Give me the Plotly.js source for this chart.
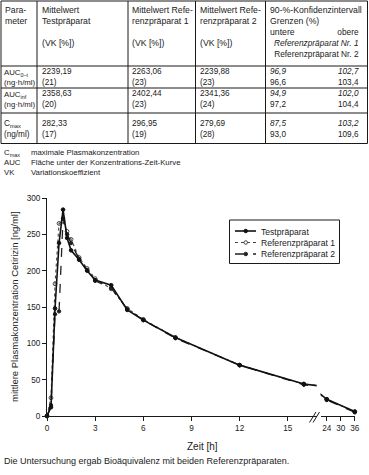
<!DOCTYPE html>
<html>
<head>
<meta charset="utf-8">
<script src="https://cdn.plot.ly/plotly-3.0.1.min.js"></script>
<style>
html,body{margin:0;padding:0;background:#fff;}
#chart{width:369px;height:475px;}
</style>
</head>
<body>
<div id="chart"></div>
<script>
// ---- chart data ----
const times = [0, 0.25, 0.5, 0.75, 1, 1.25, 1.5, 2, 2.5, 3, 4, 5, 6, 8, 12, 16, 24, 36];
const testValues = [0, 12, 148, 238, 284, 245, 228, 215, 200, 187, 180, 146, 132, 108, 70, 44, 23, 6];
const ref1Values = [0, 25, 182, 265, 268, 254, 243, 218, 203, 189, 175, 148, 133, 108, 70, 44, 23, 6];
const ref2Values = [0, 15, 140, 144, 272, 250, 238, 216, 201, 186, 176, 147, 132, 107, 70, 43, 22, 5];
const seriesNames = ["Testpräparat", "Referenzpräparat 1", "Referenzpräparat 2"];
const xTicksLeft = [0, 3, 6, 9, 12, 15];
const xTicksRight = [24, 30, 36];
const yTicks = [0, 50, 100, 150, 200, 250, 300];

// ---- table data ----
const paramNames = ["AUC<sub>0–t</sub>", "AUC<sub>inf</sub>", "C<sub>max</sub>"];
const paramUnits = ["(ng·h/ml)", "(ng·h/ml)", "(ng/ml)"];
const testMeans = ["2239,19", "2358,63", "282,33"];
const testCV = ["(21)", "(20)", "(17)"];
const ref1Means = ["2263,06", "2402,44", "296,95"];
const ref1CV = ["(23)", "(23)", "(19)"];
const ref2Means = ["2239,88", "2341,36", "279,69"];
const ref2CV = ["(23)", "(24)", "(28)"];
const ciLowerRef1 = ["96,9", "94,9", "87,5"];
const ciUpperRef1 = ["102,7", "102,0", "103,2"];
const ciLowerRef2 = ["96,6", "97,2", "93,0"];
const ciUpperRef2 = ["103,4", "104,4", "109,6"];
const abbrevTerms = ["C<sub>max</sub>", "AUC", "VK"];
const abbrevTexts = ["maximale Plasmakonzentration", "Fläche unter der Konzentrations-Zeit-Kurve", "Variationskoeffizient"];

// ---- layout helpers (pixel -> paper) ----
const L = 47, R = 14, T = 198, B = 59, W = 369, H = 475;
const PW = W - L - R, PH = H - T - B;
const X = px => (px - L) / PW;
const Y = py => (H - B - py) / PH;
const FONT = "Liberation Sans, Arial, sans-serif";
const INK = "#1a1a1a";

const styles = [
  {color: "#111", width: 1.6, dash: "solid", symbol: "circle", size: 3.6},
  {color: "#444", width: 1.1, dash: "dot", symbol: "circle-open", size: 3.8},
  {color: "#222", width: 1.3, dash: "dash", symbol: "circle", size: 3.4}
];
const values = [testValues, ref1Values, ref2Values];

const traces = [];
[1, 2, 0].forEach(i => {
  ["x", "x2"].forEach(xa => {
    traces.push({
      type: "scatter", mode: "lines+markers",
      x: times, y: values[i], xaxis: xa, yaxis: "y",
      name: seriesNames[i], showlegend: false, cliponaxis: false,
      line: {color: styles[i].color, width: styles[i].width, dash: styles[i].dash},
      marker: {symbol: styles[i].symbol, size: styles[i].size, color: styles[i].color,
               line: {color: styles[i].color, width: 1}},
      hoverinfo: "x+y+name"
    });
  });
});

const shapes = [];
const annotations = [];
function hline(y, x0, x1) {
  shapes.push({type: "line", xref: "paper", yref: "paper", x0: X(x0), x1: X(x1), y0: Y(y), y1: Y(y),
               line: {color: INK, width: 1}});
}
function vline(x, y0, y1) {
  shapes.push({type: "line", xref: "paper", yref: "paper", x0: X(x), x1: X(x), y0: Y(y0), y1: Y(y1),
               line: {color: INK, width: 1}});
}
function txt(text, px, py, anchor, size, extra) {
  const a = anchor || "left";
  annotations.push(Object.assign({
    text: text, xref: "paper", yref: "paper", x: X(px), y: Y(py),
    xanchor: a, yanchor: "middle", align: a === "center" ? "center" : a, showarrow: false,
    font: {family: FONT, size: size || 8.7, color: INK}, borderpad: 0
  }, extra || {}));
}

// table grid
const colX = [1, 37, 128, 195.5, 265.5, 367.5];
const rowY = [1, 66, 88, 113, 143.5];
rowY.forEach(y => hline(y, colX[0], colX[5]));
colX.forEach(x => vline(x, rowY[0], rowY[4]));

// header
txt("Para-<br>meter", 4, 16, "left", 8.7);
txt("Mittelwert<br>Testpräparat", 41, 16, "left", 8.7); txt("(VK [%])", 41, 43);
txt("Mittelwert Refe-<br>renzpräparat 1", 131, 16, "left", 8.7); txt("(VK [%])", 131, 43);
txt("Mittelwert Refe-<br>renzpräparat 2", 198.5, 16, "left", 8.7); txt("(VK [%])", 198.5, 43);
txt("90-%-Konfidenzintervall<br>Grenzen (%)", 268.5, 15.5, "left", 8.7);
txt("untere", 268.5, 32);
txt("obere<br><i>Referenzpräparat Nr. 1</i><br>Referenzpräparat Nr. 2", 360, 42.5, "right", 8.3);

// body rows (two lines per cell)
const rowMid = [77.2, 99.2, 128.5];
for (let r = 0; r < 3; r++) {
  const gap = r === 2 ? "<br><span style='font-size:3px'> </span><br>" : "<br>";
  const sz = 8.2;
  txt(paramNames[r] + "<br>" + paramUnits[r], 3, rowMid[r], "left", r === 2 ? 8.2 : 7.8);
  txt(testMeans[r] + "<br>" + testCV[r], 41, rowMid[r], "left", sz);
  txt(ref1Means[r] + "<br>" + ref1CV[r], 131, rowMid[r], "left", sz);
  txt(ref2Means[r] + "<br>" + ref2CV[r], 198.5, rowMid[r], "left", sz);
  txt("<i>" + ciLowerRef1[r] + "</i><br>" + ciLowerRef2[r], 268.5, rowMid[r], "left", sz);
  txt("<i>" + ciUpperRef1[r] + "</i><br>" + ciUpperRef2[r], 360, rowMid[r], "right", sz);
}

// abbreviations
const abbrevY = [152.5, 162.5, 171.5];
txt(abbrevTerms.join("<br>"), 3, 162.2, "left", 7.8);
txt(abbrevTexts.join("<br>"), 30, 162.2, "left", 7.8);

// axis titles and note
txt("mittlere Plasmakonzentration Cetirizin [ng/ml]", 14, 307, "center", 9.5, {textangle: -90});
txt("Zeit [h]", 202, 446.5, "center", 10);
txt("Die Untersuchung ergab Bioäquivalenz mit beiden Referenzpräparaten.", 2.5, 461, "left", 9);

// axis break marks
shapes.push({type: "line", xref: "paper", yref: "paper", x0: X(309.5), x1: X(316), y0: Y(422.5), y1: Y(412),
             line: {color: INK, width: 1}});
shapes.push({type: "line", xref: "paper", yref: "paper", x0: X(313), x1: X(319.5), y0: Y(422.5), y1: Y(412),
             line: {color: INK, width: 1}});

// manual legend
shapes.push({type: "rect", xref: "paper", yref: "paper", x0: X(229.5), x1: X(339.5), y0: Y(220), y1: Y(263.5),
             line: {color: INK, width: 1}, fillcolor: "rgba(255,255,255,0)"});
const legY = [231, 242.5, 254];
for (let i = 0; i < 3; i++) {
  shapes.push({type: "line", xref: "paper", yref: "paper", x0: X(235), x1: X(256), y0: Y(legY[i]), y1: Y(legY[i]),
               line: {color: styles[i].color, width: styles[i].width, dash: styles[i].dash}});
  shapes.push({type: "circle", xref: "paper", yref: "paper", x0: X(244), x1: X(247.5),
               y0: Y(legY[i] + 1.75), y1: Y(legY[i] - 1.75),
               line: {color: styles[i].color, width: 1},
               fillcolor: styles[i].symbol === "circle-open" ? "#fff" : styles[i].color});
}
txt(seriesNames.join("<br>"), 260, 242.5, "left", 8.6);

const axisCommon = {
  showline: true, linecolor: INK, linewidth: 1, ticks: "outside", ticklen: 4, tickcolor: INK,
  tickfont: {family: FONT, size: 8.2, color: INK}, showgrid: false, zeroline: false, fixedrange: true
};

const layout = {
  width: W, height: H,
  margin: {l: L, r: R, t: T, b: B, pad: 0},
  paper_bgcolor: "#fff", plot_bgcolor: "#fff",
  showlegend: false,
  xaxis: Object.assign({}, axisCommon, {domain: [0, X(316.7)], range: [0, 16.8], tickvals: xTicksLeft,
                        anchor: "y"}),
  xaxis2: Object.assign({}, axisCommon, {domain: [X(320.7), 1], range: [21.4, 36.1], tickvals: xTicksRight,
                         anchor: "y"}),
  yaxis: Object.assign({}, axisCommon, {range: [0, 300], tickvals: yTicks, anchor: "x"}),
  shapes: shapes,
  annotations: annotations
};

Plotly.newPlot("chart", traces, layout, {displayModeBar: false, staticPlot: true});
</script>
</body>
</html>
